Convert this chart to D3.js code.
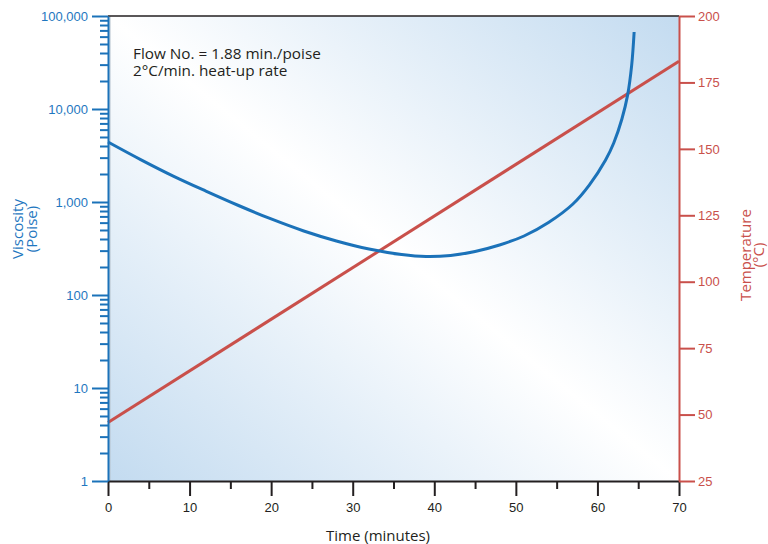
<!DOCTYPE html>
<html>
<head>
<meta charset="utf-8">
<script src="https://cdn.jsdelivr.net/npm/d3@7"></script>
<style>
  html, body { margin: 0; padding: 0; background: #fff; }
  svg { display: block; font-family: "Open Sans", "Noto Sans", sans-serif; }
</style>
</head>
<body>
<svg id="chart" width="768" height="544"></svg>
<script>
// ---- Data ----
const viscTime = [0, 4, 8, 12, 16, 20, 24, 28, 32, 36, 39, 42, 45, 48, 51, 54, 57, 59, 61, 62, 63, 63.7, 64.2, 64.5];
const viscosity = [4420, 2860, 1900, 1310, 917, 657, 488, 381, 312, 272, 259, 266, 294, 345, 431, 602, 952, 1520, 2830, 4310, 7810, 14100, 29700, 67300];
const tempTime = [0, 70];
const temperature = [47, 183];
const xTicks = [0, 10, 20, 30, 40, 50, 60, 70];
const xMinorTicks = [5, 15, 25, 35, 45, 55, 65];
const viscTicks = [1, 10, 100, 1000, 10000, 100000];
const tempTicks = [25, 50, 75, 100, 125, 150, 175, 200];
const noteLines = ["Flow No. = 1.88 min./poise", "2\u00B0C/min. heat-up rate"];

// ---- Layout ----
const svg = d3.select("#chart");
const L = 108, R = 679, T = 16, B = 481;
const blue = "#1b72b9", red = "#c9504b", ink = "#231f20";
const blueText = "#1f77c0", redText = "#c9504b";

const x = d3.scaleLinear().domain([0, 70]).range([L, R]);
const yV = d3.scaleLog().domain([1, 100000]).range([B, T]);
const yT = d3.scaleLinear().domain([25, 200]).range([B, T]);

// background gradient
const defs = svg.append("defs");
const grad = defs.append("linearGradient").attr("id", "bg")
  .attr("x1", "0").attr("y1", "1").attr("x2", "1").attr("y2", "0");
grad.append("stop").attr("offset", "0").attr("stop-color", "#c3dbf0");
grad.append("stop").attr("offset", "0.5").attr("stop-color", "#ffffff");
grad.append("stop").attr("offset", "1").attr("stop-color", "#c3dbf0");

svg.append("rect").attr("x", L).attr("y", T).attr("width", R - L).attr("height", B - T)
  .attr("fill", "url(#bg)");
// subtle inner shadow on left edge
svg.append("line").attr("x1", L + 2).attr("x2", L + 2).attr("y1", T).attr("y2", B)
  .attr("stroke", "#b8c4cf").attr("stroke-width", 1.5).attr("opacity", 0.7);

// top border
svg.append("line").attr("x1", L).attr("x2", R).attr("y1", T).attr("y2", T)
  .attr("stroke", ink).attr("stroke-width", 1.5);

// ---- lines ----
const tempData = tempTime.map((t, i) => [t, temperature[i]]);
svg.append("path").datum(tempData)
  .attr("d", d3.line().x(d => x(d[0])).y(d => yT(d[1])))
  .attr("fill", "none").attr("stroke", red).attr("stroke-width", 3);

const viscData = viscTime.map((t, i) => [t, viscosity[i]]);
svg.append("path").datum(viscData)
  .attr("d", d3.line().curve(d3.curveCatmullRom.alpha(0.5)).x(d => x(d[0])).y(d => yV(d[1])))
  .attr("fill", "none").attr("stroke", blue).attr("stroke-width", 3);

// ---- X axis ----
const gx = svg.append("g").attr("transform", `translate(0,${B})`);
gx.call(d3.axisBottom(x).tickValues(xTicks).tickSize(15).tickSizeOuter(0).tickPadding(6.5).tickFormat(d3.format("d")));
const gxm = svg.append("g").attr("transform", `translate(0,${B})`);
gxm.call(d3.axisBottom(x).tickValues(xMinorTicks).tickSize(8).tickSizeOuter(0).tickFormat(""));
gxm.select(".domain").remove();
[gx, gxm].forEach(g => {
  g.select(".domain").attr("stroke", ink).attr("stroke-width", 2);
  g.selectAll(".tick line").attr("stroke", ink).attr("stroke-width", 2);
  g.selectAll(".tick text").attr("fill", ink).attr("font-size", 13).attr("font-family", null);
});

// ---- Left (viscosity) axis ----
const minorV = [];
viscTicks.slice(0, -1).forEach(d => { for (let k = 2; k <= 9; k++) minorV.push(d * k); });
const gvm = svg.append("g").attr("transform", `translate(${L},0)`);
gvm.call(d3.axisLeft(yV).tickValues(minorV).tickSize(8).tickSizeOuter(0).tickFormat(""));
gvm.select(".domain").remove();
const gv = svg.append("g").attr("transform", `translate(${L},0)`);
gv.call(d3.axisLeft(yV).tickValues(viscTicks).tickSize(16).tickSizeOuter(0).tickPadding(4).tickFormat(d3.format(",")));
[gv, gvm].forEach(g => {
  g.select(".domain").attr("stroke", blue).attr("stroke-width", 2);
  g.selectAll(".tick line").attr("stroke", blue).attr("stroke-width", 2);
  g.selectAll(".tick text").attr("fill", blueText).attr("font-size", 13).attr("font-family", null);
});

// ---- Right (temperature) axis ----
const gt = svg.append("g").attr("transform", `translate(${R},0)`);
gt.call(d3.axisRight(yT).tickValues(tempTicks).tickSize(16).tickSizeOuter(0).tickPadding(3).tickFormat(d3.format("d")));
gt.select(".domain").attr("stroke", red).attr("stroke-width", 2);
gt.selectAll(".tick line").attr("stroke", red).attr("stroke-width", 2);
gt.selectAll(".tick text").attr("fill", redText).attr("font-size", 13).attr("font-family", null);

// ---- Titles ----
svg.append("text").attr("x", (L + R) / 2 - 15.5).attr("y", 541)
  .attr("text-anchor", "middle").attr("font-size", 15).attr("fill", ink)
  .text("Time (minutes)");

const leftTitle = svg.append("g").attr("transform", "translate(0,229) rotate(-90)")
  .attr("fill", blueText).attr("font-size", 15).attr("text-anchor", "middle");
leftTitle.append("text").attr("x", 0).attr("y", 22.5).text("Viscosity");
leftTitle.append("text").attr("x", 0).attr("y", 37).text("(Poise)");

const rightTitle = svg.append("g").attr("transform", "translate(0,255) rotate(-90)")
  .attr("fill", redText).attr("font-size", 15).attr("text-anchor", "middle");
rightTitle.append("text").attr("x", 0).attr("y", 751).text("Temperature");
rightTitle.append("text").attr("x", 0).attr("y", 764).text("(\u00B0C)");

// ---- Annotation ----
const note = svg.append("text").attr("font-size", 15.3).attr("fill", ink);
noteLines.forEach((s, i) => {
  note.append("tspan").attr("x", 133).attr("y", 58.5 + i * 17.5).text(s);
});
</script>
</body>
</html>
